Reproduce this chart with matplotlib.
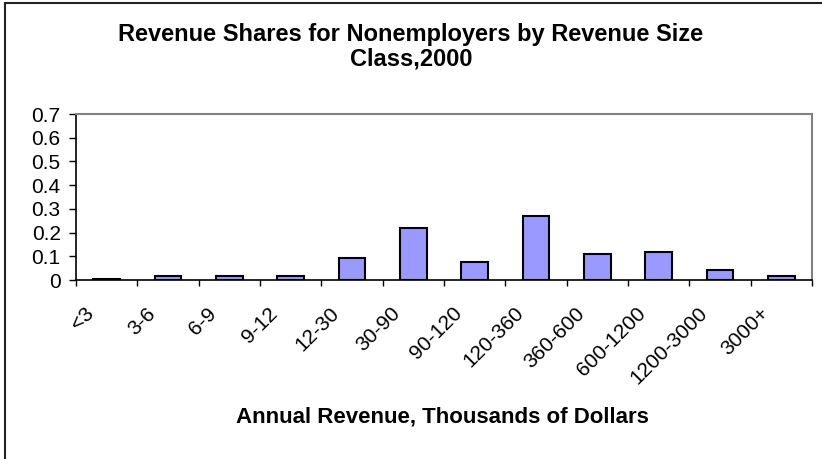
import numpy as np
import matplotlib
matplotlib.use("Agg")
import matplotlib.pyplot as plt
from matplotlib.patches import Rectangle
from matplotlib.ticker import FixedLocator, NullFormatter
from matplotlib.transforms import ScaledTranslation

#### data
size_classes = ['<3', '3-6', '6-9', '9-12', '12-30', '30-90', '90-120',
                '120-360', '360-600', '600-1200', '1200-3000', '3000+']
revenue_share = [0.006, 0.018, 0.018, 0.018, 0.094, 0.219, 0.077,
                 0.270, 0.110, 0.118, 0.042, 0.018]
y_ticks = [0, 0.1, 0.2, 0.3, 0.4, 0.5, 0.6, 0.7]

plt.rcParams['font.family'] = ['Liberation Sans', 'DejaVu Sans']

fig = plt.figure(figsize=(8.22, 4.59), dpi=100)
ax = fig.add_axes([76/822, 1 - 280/459, (812-76)/822, (280-114)/459])

x = np.arange(len(size_classes))
ax.bar(x, revenue_share, width=0.43, color='#9999FF',
       edgecolor='black', linewidth=1.5)

ax.set_xlim(-0.5, len(size_classes) - 0.5)
ax.set_ylim(0, 0.7)
ax.set_yticks(y_ticks)
ax.set_yticklabels([f'{v:g}' for v in y_ticks], fontsize=15)
ax.tick_params(axis='y', length=5, width=1, pad=6)

#### category labels at centers, tick marks on the boundaries
ax.set_xticks(x)
ax.set_xticklabels(size_classes, rotation=45, ha='right', fontsize=15)
ax.tick_params(axis='x', which='major', length=0, pad=17)
shift = ScaledTranslation(-9/100, 0, fig.dpi_scale_trans)
for lab in ax.get_xticklabels():
    lab.set_transform(lab.get_transform() + shift)
ax.xaxis.set_minor_locator(FixedLocator(np.arange(-0.5, len(size_classes), 1.0)))
ax.xaxis.set_minor_formatter(NullFormatter())
ax.tick_params(axis='x', which='minor', length=4.5, width=1)

for side in ['top', 'right']:
    ax.spines[side].set_color('#808080')
    ax.spines[side].set_linewidth(1.5)
for side in ['left', 'bottom']:
    ax.spines[side].set_color('black')
    ax.spines[side].set_linewidth(1.2)

fig.text(0.5, 1 - 34/459, 'Revenue Shares for Nonemployers by Revenue Size',
         ha='center', va='center', fontsize=17, fontweight='bold')
fig.text(0.5, 1 - 59/459, 'Class,2000',
         ha='center', va='center', fontsize=17, fontweight='bold')
fig.text(442/822, 1 - 417/459, 'Annual Revenue, Thousands of Dollars',
         ha='center', va='center', fontsize=16, fontweight='bold')

#### outer chart frame (cropped at right and bottom)
fig.patches.append(Rectangle((5/822, -0.1), 1.2, 1.1 - 3/459,
                             transform=fig.transFigure, fill=False,
                             edgecolor='#222222', linewidth=1.5))

fig.savefig('out.png', dpi=100)
